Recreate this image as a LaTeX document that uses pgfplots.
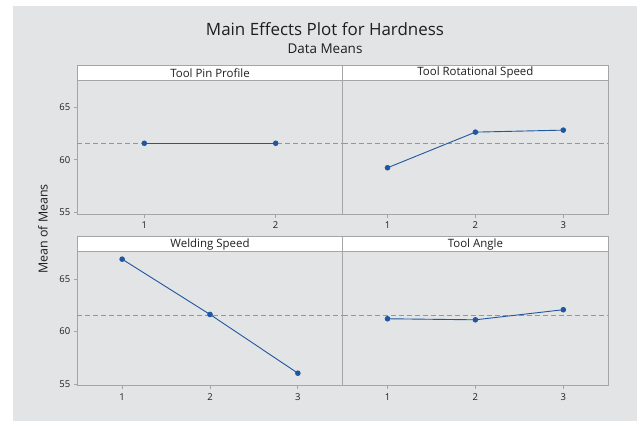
\documentclass[border=0pt]{standalone}
\usepackage{pgfplots}
\pgfplotsset{compat=1.18}
\usepackage{fontspec}
\setmainfont{Open Sans}
\definecolor{bgray}{RGB}{227,228,230}
\definecolor{frame}{RGB}{165,165,165}
\definecolor{mline}{RGB}{31,87,160}
\definecolor{meanc}{RGB}{150,150,150}
\definecolor{txt}{RGB}{30,30,30}

\pgfplotsset{
  panel/.style={
    anchor=south west, scale only axis,
    width=265.4bp, height=134bp,
    ymin=54.85, ymax=67.6,
    axis line style={frame, line width=0.9bp},
    tick style={frame, line width=0.8bp},
    tick align=outside, major tick length=3.5bp,
    xtick pos=bottom, ytick pos=left,
    ytick={55,60,65},
    tick label style={font=\fontsize{9.5}{10}\selectfont, text=txt},
    /pgf/number format/assume math mode=true,
    xticklabel shift=1bp,
    clip=false,
  },
  strip/.style={
    execute at end axis={
      \draw[frame, line width=0.9bp, fill=white] (rel axis cs:0,1) rectangle (rel axis cs:1,1.112);
      \node[font=\fontsize{11.5}{13}\selectfont, text=txt] at (rel axis cs:0.5,1.054) {#1};
    }
  },
  effect/.style={mline, line width=0.9bp, mark=*, mark size=2.3bp, mark options={fill=mline, draw=mline}},
  meanl/.style={meanc, line width=0.9bp, dash pattern=on 5bp off 3bp, forget plot},
}

\begin{document}
\begin{tikzpicture}[x=1bp, y=1bp]
\fill[white] (0,0) rectangle (637,423);
\fill[bgray] (13,2) rectangle (637,417);
\node[font=\fontsize{17}{20}\selectfont, text=txt] at (325,394) {Main Effects Plot for Hardness};
\node[font=\fontsize{13.5}{15}\selectfont, text=txt] at (325,374) {Data Means};
\node[font=\fontsize{12.5}{14}\selectfont, text=txt, rotate=90] at (43,194) {Mean of Means};

% top left
\begin{axis}[panel, strip={Tool Pin Profile}, at={(77.3bp,209bp)}, xmin=0.49, xmax=2.51, xtick={1,2}]
\addplot[meanl] coordinates {(0.49,61.55) (2.51,61.55)};
\addplot[effect] coordinates {(1,61.58) (2,61.58)};
\end{axis}

% top right
\begin{axis}[panel, strip={Tool Rotational Speed}, at={(342.7bp,209bp)}, xmin=0.49, xmax=3.51, xtick={1,2,3}, ytick=\empty]
\addplot[meanl] coordinates {(0.49,61.55) (3.51,61.55)};
\addplot[effect] coordinates {(1,59.25) (2,62.64) (3,62.83)};
\end{axis}

% bottom left
\begin{axis}[panel, strip={Welding Speed}, at={(77.3bp,37.3bp)}, xmin=0.49, xmax=3.51, xtick={1,2,3}]
\addplot[meanl] coordinates {(0.49,61.55) (3.51,61.55)};
\addplot[effect] coordinates {(1,66.89) (2,61.63) (3,56.04)};
\end{axis}

% bottom right
\begin{axis}[panel, strip={Tool Angle}, at={(342.7bp,37.3bp)}, xmin=0.49, xmax=3.51, xtick={1,2,3}, ytick=\empty]
\addplot[meanl] coordinates {(0.49,61.55) (3.51,61.55)};
\addplot[effect] coordinates {(1,61.22) (2,61.12) (3,62.08)};
\end{axis}
\end{tikzpicture}
\end{document}
